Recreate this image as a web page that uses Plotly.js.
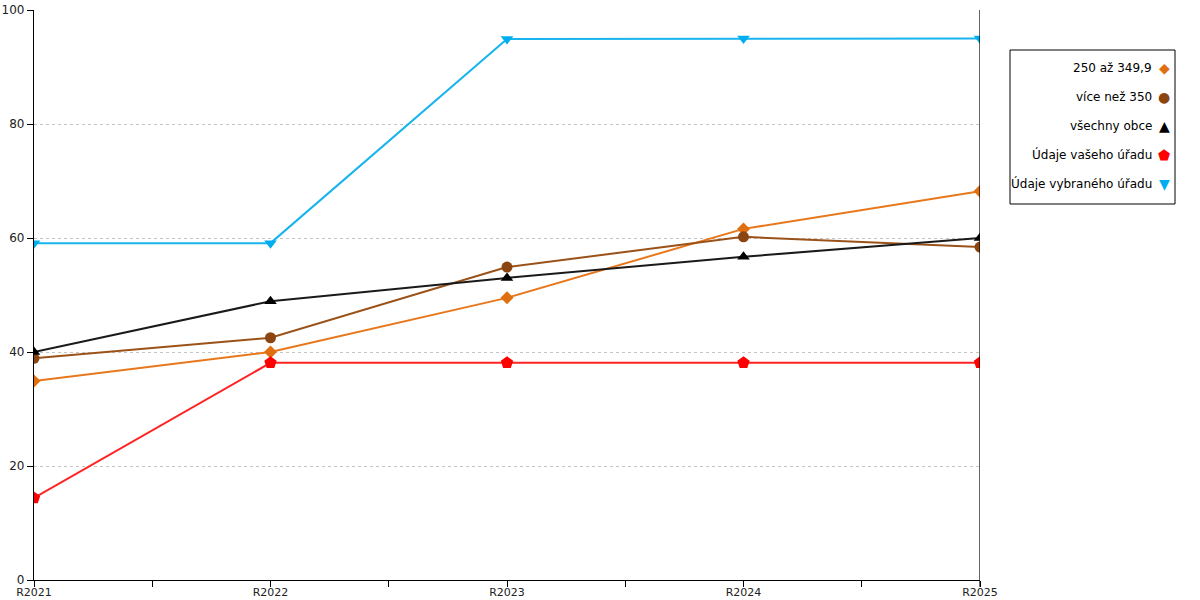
<!DOCTYPE html>
<html>
<head>
<meta charset="utf-8">
<script src="https://cdn.plot.ly/plotly-3.0.1.min.js"></script>
<style>
  html, body { margin: 0; padding: 0; background: #fff; }
  #chart { width: 1200px; height: 600px; }
</style>
</head>
<body>
<div id="chart"></div>
<script>
  var categories = ['R2021', 'R2022', 'R2023', 'R2024', 'R2025'];

  var seriesNames = ['250 až 349,9', 'více než 350', 'všechny obce', 'Údaje vašeho úřadu', 'Údaje vybraného úřadu'];
  var s250 = [34.9, 40.0, 49.5, 61.6, 68.2];
  var sOver350 = [38.9, 42.5, 54.9, 60.2, 58.4];
  var sAll = [40.0, 48.9, 53.0, 56.7, 60.0];
  var sYours = [14.4, 38.1, 38.1, 38.1, 38.1];
  var sSelected = [59.1, 59.1, 94.9, 95.0, 95.0];

  var yTicks = [0, 20, 40, 60, 80, 100];

  (function () {
    'use strict';

    var FONT = 'DejaVu Sans, Verdana, sans-serif';
    var styles = [
      { line: '#E8771C', marker: '#E0700F', symbol: 'diamond',       size: 10, glyph: '\u25C6' },
      { line: '#9A5219', marker: '#8B4510', symbol: 'circle',        size: 11, glyph: '\u25CF' },
      { line: '#1a1a1a', marker: '#000000', symbol: 'triangle-up',   size: 11, glyph: '\u25B2' },
      { line: '#FF2424', marker: '#FF0000', symbol: 'pentagon',      size: 13, glyph: '\u2B1F' },
      { line: '#18B4EE', marker: '#00AEEF', symbol: 'triangle-down', size: 11, glyph: '\u25BC' }
    ];
    var values = [s250, sOver350, sAll, sYours, sSelected];

    var xIdx = categories.map(function (c, i) { return i; });

    var traces = values.map(function (v, i) {
      return {
        x: xIdx, y: v, name: seriesNames[i],
        type: 'scatter', mode: 'lines+markers',
        line: { color: styles[i].line, width: 2 },
        marker: { color: styles[i].marker, symbol: styles[i].symbol, size: styles[i].size },
        showlegend: false,
        hovertemplate: seriesNames[i] + ': %{y}<extra></extra>'
      };
    });

    /* x ticks at categories and half-way between them */
    var tickvals = [], ticktext = [];
    categories.forEach(function (c, i) {
      tickvals.push(i); ticktext.push(c);
      if (i < categories.length - 1) { tickvals.push(i + 0.5); ticktext.push(''); }
    });

    /* hand-built legend: right-aligned text, symbol at right */
    var legTop = 68, legStep = 28.9;
    var annotations = [];
    seriesNames.forEach(function (n, i) {
      var py = legTop + i * legStep;
      var yp = (580 - py) / 570;
      annotations.push({
        xref: 'paper', yref: 'paper', x: (1154 - 34) / 946, y: yp,
        xanchor: 'right', yanchor: 'middle', showarrow: false,
        text: n, font: { family: FONT, size: 12, color: '#000' }
      });
      annotations.push({
        xref: 'paper', yref: 'paper', x: (1164 - 34) / 946, y: yp,
        xanchor: 'center', yanchor: 'middle', showarrow: false,
        text: styles[i].glyph, font: { family: FONT, size: 14, color: styles[i].marker }
      });
    });

    var shapes = [
      { type: 'line', xref: 'x', yref: 'paper', x0: 4, x1: 4, y0: -0.012, y1: 1,
        line: { color: '#000', width: 1.2 } },
      { type: 'rect', xref: 'paper', yref: 'paper',
        x0: (1010 - 34) / 946, x1: (1175 - 34) / 946,
        y0: (580 - 204) / 570, y1: (580 - 50) / 570,
        line: { color: '#000', width: 1 }, fillcolor: 'rgba(0,0,0,0)' }
    ];

    var layout = {
      width: 1200, height: 600,
      margin: { l: 34, r: 220, t: 10, b: 20 },
      xaxis: {
        range: [0, 4],
        tickvals: tickvals, ticktext: ticktext,
        ticks: 'outside', ticklen: 6, tickcolor: '#000', tickwidth: 1,
        ticklabelstandoff: -4,
        tickfont: { family: FONT, size: 11, color: '#222' },
        showgrid: false, zeroline: false,
        showline: true, linecolor: '#000', linewidth: 1.2,
        fixedrange: true
      },
      yaxis: {
        range: [0, 100],
        tickvals: yTicks,
        ticks: 'outside', ticklen: 6, tickcolor: '#000', tickwidth: 1,
        tickfont: { family: FONT, size: 12, color: '#222' },
        showgrid: true, gridcolor: '#c4c4c4', griddash: 'dot', gridwidth: 1,
        zeroline: false,
        showline: true, linecolor: '#000', linewidth: 1.2,
        fixedrange: true
      },
      shapes: shapes,
      annotations: annotations,
      showlegend: false,
      paper_bgcolor: '#fff',
      plot_bgcolor: '#fff',
      font: { family: FONT },
      hovermode: 'closest',
      dragmode: false
    };

    Plotly.newPlot('chart', traces, layout, { displayModeBar: false, staticPlot: false });
  })();
</script>
</body>
</html>
